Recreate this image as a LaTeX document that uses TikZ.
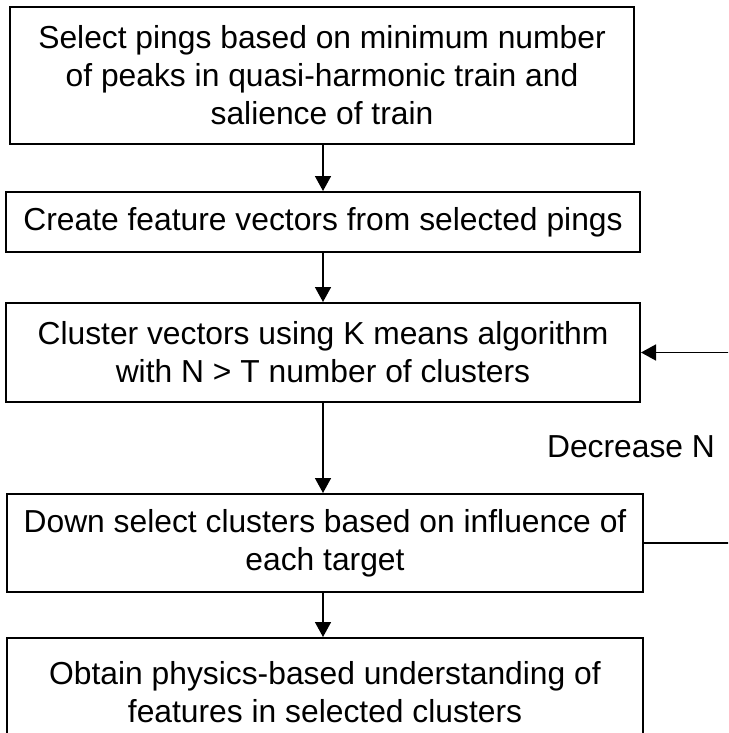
\documentclass[tikz,border=0pt]{standalone}
\usepackage{fontspec}
\setmainfont{Liberation Sans}
\usetikzlibrary{arrows.meta}
\begin{document}
\begin{tikzpicture}[x=1pt,y=-1pt,
  box/.style={draw, line width=2pt, align=center, inner sep=0pt,
    font=\fontsize{31.8}{38}\selectfont},
  lbl/.style={inner sep=0pt, font=\fontsize{31.8}{38}\selectfont},
  flow/.style={line width=1.6pt, -{Triangle[length=15pt,width=16pt]}}]
\useasboundingbox (0,0) rectangle (728,733);
\clip (0,0) rectangle (728,733);
\node[box, minimum width=624pt, minimum height=137pt] (b1) at (322,75.5)
  {Select pings based on minimum number\\of peaks in quasi-harmonic train and\\salience of train};
\node[box, minimum width=634pt, minimum height=60pt] (b2) at (323,222)
  {Create feature vectors from selected pings};
\node[box, minimum width=634pt, minimum height=99pt] (b3) at (323,352.5)
  {Cluster vectors using K means algorithm\\with N > T number of clusters};
\node[box, minimum width=636pt, minimum height=98pt] (b4) at (325,543)
  {Down select clusters based on influence of\\each target};
\node[box, minimum width=636pt, minimum height=108pt] (b5) at (325,692)
  {Obtain physics-based understanding of\\features in selected clusters};
\node[lbl] (dec) at (631,447) {Decrease N};
\coordinate (fb) at (732,0);
\draw[flow] (b1.south -| 323,0) -- (b2.north -| 323,0);
\draw[flow] (b2.south -| 323,0) -- (b3.north -| 323,0);
\draw[flow] (b3.south -| 323,0) -- (b4.north -| 323,0);
\draw[flow] (b4.south -| 323,0) -- (b5.north -| 323,0);
\draw[flow] (b4.east) -- (b4.east -| fb) |- (b3.east);
\end{tikzpicture}
\end{document}
